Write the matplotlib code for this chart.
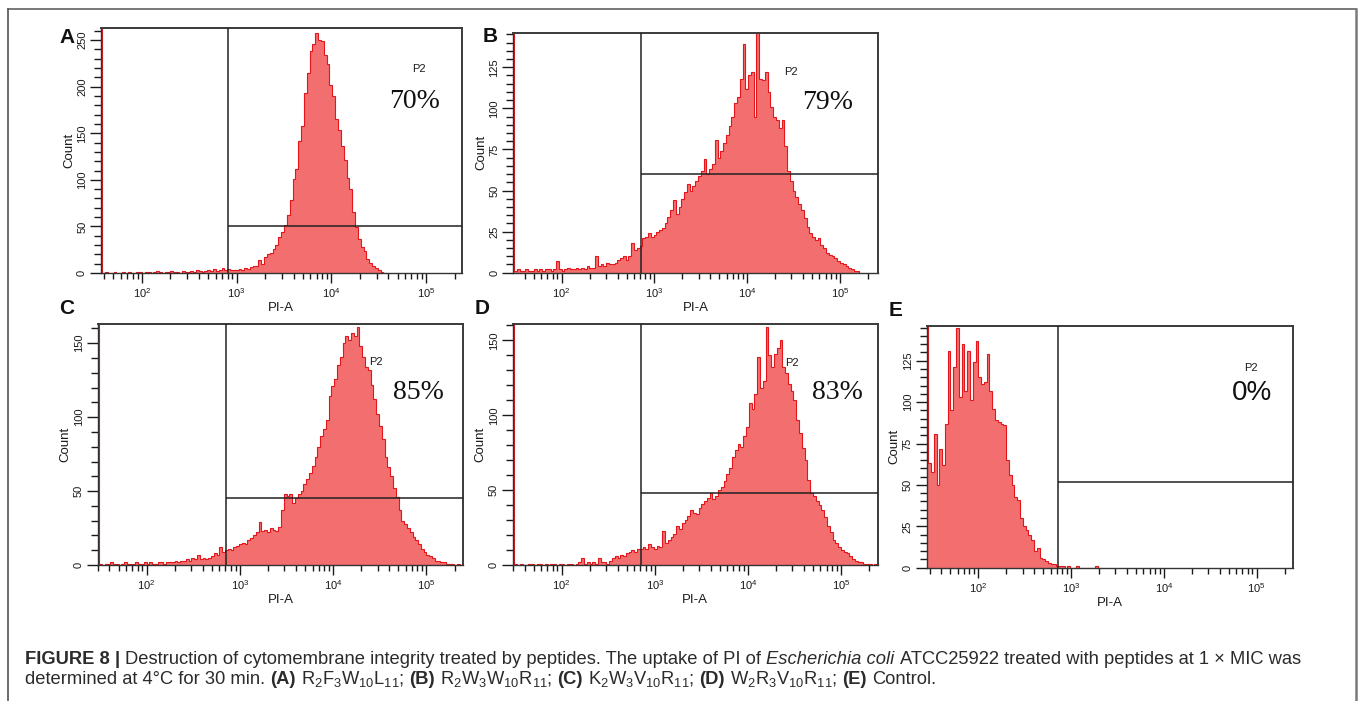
import numpy as np
import matplotlib
matplotlib.use("Agg")
import matplotlib.pyplot as plt
from matplotlib.ticker import LogLocator, MultipleLocator, NullFormatter
from matplotlib.lines import Line2D

plt.rcParams['font.family'] = ['Liberation Sans', 'DejaVu Sans']
plt.rcParams['mathtext.fontset'] = 'custom'
plt.rcParams['mathtext.rm'] = 'Liberation Sans'
plt.rcParams['mathtext.it'] = 'Liberation Sans:italic'
plt.rcParams['mathtext.bf'] = 'Liberation Sans:bold'

# ---------------- data ----------------
panel_letters = ['A', 'B', 'C', 'D', 'E']
percent_labels = ['70%', '79%', '85%', '83%', '0%']
gate_name = 'P2'
x_label = 'PI-A'
y_label = 'Count'

# histogram channels: log10(PI-A) bins starting at 10^1.43, 0.03 decade wide
bin_log_start = 1.43
bin_log_width = 0.03

counts_A = [0, 0, 0, 0, 600,
            0, 1, 0, 0, 1, 0, 0, 1, 0, 1, 0, 0, 1,
            1, 0, 1, 1, 0, 1, 2, 1, 0, 1, 1, 2, 1, 1, 0, 2, 1, 1,
            2, 1, 3, 2, 1, 2, 3, 2, 4, 2, 3, 5, 3, 4, 3, 3,
            3, 4, 3, 5, 4, 6, 8, 7,
            14, 10, 17, 20, 22, 26, 30, 39, 44, 52,
            62, 78, 101, 112, 142, 158, 193, 215, 238, 246,
            258, 250, 249, 234, 224, 202, 190, 165, 154, 136,
            121, 102, 90, 66, 49, 37, 28, 24, 15, 11,
            7, 5, 3, 1, 0]

counts_B = [0, 500,
            1, 2, 1, 1, 2, 1, 1, 2, 1, 2, 1, 2, 2, 1, 2, 7,
            2, 1, 2, 3, 2, 2, 3, 2, 3, 2, 4, 3, 3,
            10,
            4, 5, 4, 6, 5, 5, 6,
            8, 9, 10, 8, 10,
            18, 14, 15, 16, 21,
            22, 24, 22, 23,
            25, 26, 27, 30,
            34, 38, 44, 36, 40,
            45, 49, 54, 50, 53,
            56, 59, 62, 69, 60,
            63, 66, 81, 70, 74,
            79, 84, 89, 95, 103,
            107, 118, 139, 112, 120,
            122, 95, 146, 118, 117,
            122, 110, 101, 95, 93,
            88, 93, 77, 62, 56,
            50, 46, 42, 38, 33,
            28, 24, 22, 20, 21,
            17, 15, 12, 11, 10,
            9, 7, 6, 5, 4,
            3, 2, 1, 1, 0]

counts_C = [0, 500,
            1, 0, 1, 1, 2, 1, 1, 0, 1, 2, 1, 1, 1, 2, 1, 1, 2, 1, 2, 1, 1, 2, 2, 1, 2, 2, 2, 3, 2,
            3, 3, 4, 3, 5, 4, 7, 4, 5, 4, 5,
            6, 8, 7, 12, 9, 10,
            11, 10, 12, 13, 14,
            15, 14, 17, 18, 20,
            22, 29, 23, 24, 22,
            25, 24, 23, 26, 37,
            48, 47, 48, 42, 45,
            48, 50, 55, 58, 62,
            67, 73, 80, 87, 92,
            98, 114, 121, 126, 135,
            141, 150, 155, 152, 157,
            155, 161, 148, 141, 134,
            132, 122, 112, 102, 94,
            85, 73, 66, 60, 52,
            46, 37, 30, 28, 25,
            22, 19, 17, 14, 11,
            9, 7, 6, 5, 3,
            3, 2, 2, 1, 1,
            1, 0, 1, 0, 0]

counts_D = [0, 500,
            1, 0, 1, 0, 0, 1, 1, 0, 1, 1, 0, 1, 0, 1, 1, 0, 1, 1, 0, 1, 1, 0, 1,
            2, 5, 1, 2, 1, 2, 1, 5, 2, 2, 1, 3,
            5, 6, 5, 7, 6, 8, 9, 10, 9, 11,
            11, 12, 11, 14, 12, 11, 13, 12,
            23, 15, 17, 19, 21,
            26, 24, 28, 30, 33,
            37, 35, 34, 38, 41,
            43, 45, 48, 44, 46,
            50, 52, 56, 61, 65,
            72, 77, 81, 79, 86,
            92, 108, 104, 114, 139,
            118, 123, 159, 140, 132,
            141, 145, 150, 132, 128,
            121, 116, 110, 97, 88,
            78, 70, 57, 48, 46,
            43, 40, 37, 32, 26,
            22, 17, 15, 12, 10,
            9, 8, 6, 4, 3,
            2, 2, 1, 1, 1,
            0, 1, 0]

counts_E = [600, 63,
            58, 81, 50, 72, 62,
            87, 131, 95, 121, 145,
            103, 135, 107, 131, 101,
            124, 137, 115, 111, 112,
            129, 107, 96, 89, 88,
            87, 86, 65, 56, 50,
            43, 41, 30, 25, 23,
            20, 17, 10, 12, 6,
            5, 4, 3, 2, 2,
            1, 1, 1, 0, 1,
            0, 0, 1, 0, 0,
            0, 0, 0, 0, 1, 0]

all_counts = [counts_A, counts_B, counts_C, counts_D, counts_E]

# gate P2 thresholds (PI-A, Count)
gate_x = [817, 724, 708, 708, 724]
gate_y = [50, 60, 45, 48, 52]

# axis ranges
x_min = [36.9, 30.1, 29.9, 29.8, 27.8]
x_max = [238000, 259000, 248000, 248000, 248000]
y_max = [263, 146, 163, 161, 146]
y_major = [50, 25, 50, 50, 25]

# ---------------- layout / style ----------------
W, H, DPI = 1358, 701, 100
fig = plt.figure(figsize=(W / DPI, H / DPI), dpi=DPI)
fig.patch.set_facecolor('white')

boxes = [(101.0, 28.0, 461.7, 273.0),
         (513.3, 32.7, 878.3, 272.7),
         (97.7, 324.0, 463.3, 565.0),
         (512.7, 324.0, 877.7, 565.0),
         (926.7, 326.0, 1293.3, 567.7)]
p2_pos = [(0.882, 0.833), (0.761, 0.836), (0.761, 0.842), (0.765, 0.838), (0.885, 0.826)]
pct_pos = [(0.868, 0.698), (0.862, 0.711), (0.876, 0.714), (0.891, 0.714), (0.888, 0.723)]
pct_family = ['Liberation Serif'] * 4 + ['Liberation Sans']
letter_px = [(67.5, 37.5), (490, 36), (67, 309), (482, 309), (896, 310)]

FILL = '#F36E6E'
EDGE = '#E3161B'
GATE = '#222222'
DARK = '#1a1a1a'

for k in range(5):
    l, t, r, b = boxes[k]
    wpx, hpx = r - l, b - t
    ax = fig.add_axes([l / W, 1 - b / H, wpx / W, hpx / H])
    counts = np.asarray(all_counts[k], dtype=float)
    edges = 10 ** (bin_log_start + bin_log_width * np.arange(len(counts) + 1))
    ax.stairs(counts, edges, fill=True, color=FILL, lw=0, zorder=1)
    ax.stairs(counts, edges, color=EDGE, lw=0.8, zorder=2)
    ax.set_xscale('log')
    ax.set_xlim(x_min[k], x_max[k])
    ax.set_ylim(0, y_max[k])

    ax.axvline(gate_x[k], color=GATE, lw=1.1, zorder=3)
    ax.hlines(gate_y[k], gate_x[k], x_max[k], color=GATE, lw=1.1, zorder=3)

    ax.xaxis.set_major_locator(LogLocator(base=10, numticks=12))
    ax.xaxis.set_minor_locator(LogLocator(base=10, subs=np.arange(2, 10) * 1.0, numticks=12))
    ax.xaxis.set_minor_formatter(NullFormatter())
    ax.yaxis.set_major_locator(MultipleLocator(y_major[k]))
    ax.yaxis.set_minor_locator(MultipleLocator(y_major[k] / 5))
    ax.tick_params(axis='x', which='major', direction='out', length=7, width=1,
                   pad=2.5, labelsize=8, colors=DARK)
    ax.tick_params(axis='x', which='minor', direction='out', length=4, width=1, colors=DARK)
    ax.tick_params(axis='y', which='major', direction='out', length=8, width=1,
                   pad=2, labelsize=8, labelrotation=90, colors=DARK)
    ax.tick_params(axis='y', which='minor', direction='out', length=5, width=1, colors=DARK)
    for lab in ax.get_yticklabels():
        lab.set_va('center')

    for s in ['top', 'right']:
        ax.spines[s].set_color('#3a3a3a')
        ax.spines[s].set_linewidth(1.4)
    for s in ['left', 'bottom']:
        ax.spines[s].set_color('#333333')
        ax.spines[s].set_linewidth(1.0)

    ax.set_xlabel(x_label, fontsize=9.5, va='center', color=DARK)
    ax.xaxis.set_label_coords(0.5, -35 / hpx)
    ax.set_ylabel(y_label, fontsize=9.5, va='center', color=DARK)
    ax.yaxis.set_label_coords(-32 / wpx, 0.5)

    ax.text(p2_pos[k][0], p2_pos[k][1], gate_name, transform=ax.transAxes,
            ha='center', va='center', fontsize=8, color=DARK, zorder=5)
    ax.text(pct_pos[k][0], pct_pos[k][1], percent_labels[k], transform=ax.transAxes,
            ha='center', va='center', fontsize=20, color='#111111',
            family=[pct_family[k], 'DejaVu Sans'], zorder=5)

    lx, ly = letter_px[k]
    fig.text(lx / W, 1 - ly / H, panel_letters[k], fontsize=15, fontweight='bold',
             ha='center', va='center', color='#111111')

# ---------------- caption ----------------
CAP = '#2b2b2b'
CAP_SIZE = 13.2
caption_line1 = [("FIGURE 8 |", 'bold', True),
                 ("Destruction of cytomembrane integrity treated by peptides. The uptake of PI of", 'normal', True),
                 ("Escherichia coli", 'italic', True),
                 ("ATCC25922 treated with peptides at 1 \u00d7 MIC was", 'normal', False)]
caption_line2 = [("determined at 4\u00b0C for 30 min.", 'normal', True),
                 ("(A)", 'bold', True), ("R$_2$F$_3$W$_{10}$L$_{11}$;", 'normal', True),
                 ("(B)", 'bold', True), ("R$_2$W$_3$W$_{10}$R$_{11}$;", 'normal', True),
                 ("(C)", 'bold', True), ("K$_2$W$_3$V$_{10}$R$_{11}$;", 'normal', True),
                 ("(D)", 'bold', True), ("W$_2$R$_3$V$_{10}$R$_{11}$;", 'normal', True),
                 ("(E)", 'bold', True), ("Control.", 'normal', False)]

renderer = fig.canvas.get_renderer()
probe = fig.text(0, 0, 'a a', fontsize=CAP_SIZE)
w1 = probe.get_window_extent(renderer).width
probe.set_text('aa')
w2 = probe.get_window_extent(renderer).width
probe.remove()
space_w = w1 - w2


def draw_line(pieces, x0, baseline):
    x = x0
    for txt, style, gap in pieces:
        kw = {}
        if style == 'bold':
            kw['fontweight'] = 'bold'
        if style == 'italic':
            kw['fontstyle'] = 'italic'
        tt = fig.text(x / W, 1 - baseline / H, txt, fontsize=CAP_SIZE, color=CAP,
                      ha='left', va='baseline', **kw)
        x += tt.get_window_extent(renderer).width + (space_w if gap else 0)
    return x


draw_line(caption_line1, 25, 664)
draw_line(caption_line2, 25, 684)

# ---------------- outer frame ----------------
fig.add_artist(Line2D([8.3 / W, 8.3 / W], [1 - 8.8 / H, -0.01], transform=fig.transFigure,
                      color='#444444', lw=1.1))
fig.add_artist(Line2D([8.3 / W, 1355.5 / W], [1 - 8.8 / H, 1 - 8.8 / H], transform=fig.transFigure,
                      color='#555555', lw=1.1))
fig.add_artist(Line2D([1355.5 / W, 1355.5 / W], [1 - 8.8 / H, -0.01], transform=fig.transFigure,
                      color='#7a7a7a', lw=1.8))

fig.savefig('out.png', dpi=DPI, facecolor='white')
